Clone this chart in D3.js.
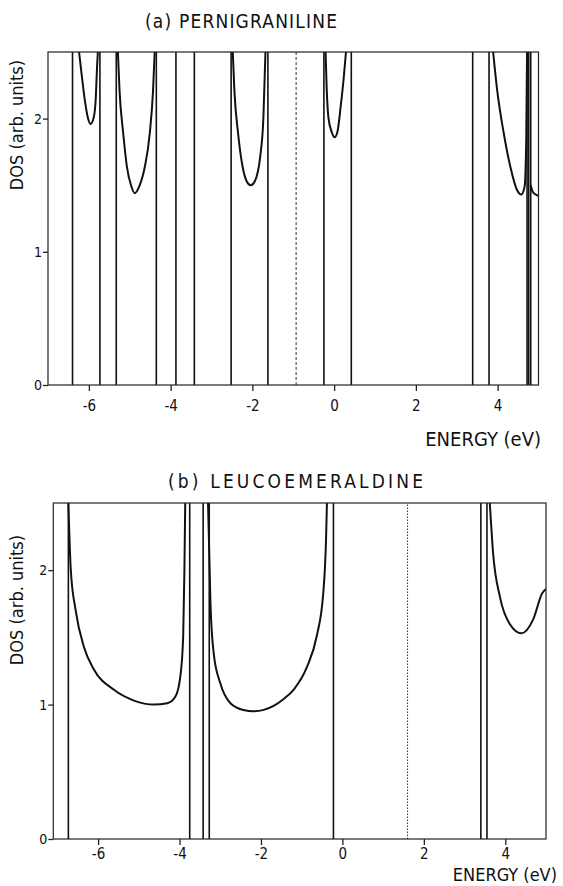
<!DOCTYPE html>
<html>
<head>
<meta charset="utf-8">
<script src="https://cdnjs.cloudflare.com/ajax/libs/d3/7.8.5/d3.min.js"></script>
<style>
  body { margin: 0; background: #fff; }
  svg text { font-family: "DejaVu Sans Condensed", "DejaVu Sans", sans-serif; fill: #111; }
</style>
</head>
<body>
<div id="container"></div>
<script>
// ---- data (energy in eV, DOS in arb. units) ----
const xTicks = [-6, -4, -2, 0, 2, 4];
const yTicks = [0, 1, 2];

// (a) pernigraniline: band edges (vertical lines), Fermi level, DOS curves
const pEdges = [-6.40, -5.73, -5.33, -4.35, -3.87, -3.42, -2.52, -1.62, -0.25, 0.42, 3.39, 3.79, 4.72, 4.76, 4.81];
const pFermi = -0.93;
const pBand1 = [[-6.24, 2.5], [-6.18, 2.34], [-6.10, 2.14], [-6.02, 2.00], [-5.96, 1.96], [-5.88, 2.01], [-5.83, 2.16], [-5.80, 2.39], [-5.78, 2.5]];
const pBand2 = [[-5.29, 2.5], [-5.25, 2.21], [-5.16, 1.89], [-5.07, 1.64], [-4.96, 1.49], [-4.88, 1.44], [-4.77, 1.49], [-4.63, 1.64], [-4.51, 1.89], [-4.43, 2.21], [-4.39, 2.5]];
const pBand3 = [[-2.48, 2.5], [-2.44, 2.21], [-2.35, 1.89], [-2.24, 1.64], [-2.14, 1.53], [-2.04, 1.50], [-1.94, 1.53], [-1.81, 1.71], [-1.73, 2.01], [-1.68, 2.5]];
const pBand4 = [[-0.21, 2.5], [-0.18, 2.21], [-0.14, 2.01], [-0.06, 1.90], [0.01, 1.86], [0.08, 1.90], [0.16, 2.09], [0.23, 2.29], [0.29, 2.5]];
const pBand5 = [[3.89, 2.5], [3.99, 2.21], [4.15, 1.89], [4.31, 1.64], [4.48, 1.46], [4.58, 1.43], [4.66, 1.49], [4.70, 1.84], [4.72, 2.5]];
const pBand6 = [[4.81, 1.50], [4.86, 1.45], [4.93, 1.43], [5.0, 1.42]];

// (b) leucoemeraldine
const lEdges = [-6.73, -3.75, -3.42, -3.27, -0.22, 3.40, 3.55];
const lFermi = 1.60;
const lBand1 = [[-6.73, 2.5], [-6.67, 2.00], [-6.55, 1.70], [-6.35, 1.43], [-6.10, 1.26], [-5.61, 1.11], [-5.12, 1.03], [-4.63, 1.00], [-4.30, 1.01], [-4.10, 1.06], [-3.98, 1.21], [-3.91, 1.51], [-3.88, 2.00], [-3.86, 2.5]];
const lBand2 = [[-3.30, 2.5], [-3.24, 1.75], [-3.16, 1.38], [-3.00, 1.16], [-2.75, 1.01], [-2.43, 0.96], [-2.18, 0.95], [-1.69, 0.99], [-1.45, 1.04], [-1.20, 1.11], [-0.87, 1.28], [-0.63, 1.51], [-0.47, 1.83], [-0.40, 2.25], [-0.38, 2.5]];
const lBand3 = [[3.62, 2.5], [3.70, 2.13], [3.87, 1.80], [4.11, 1.60], [4.40, 1.53], [4.68, 1.63], [4.91, 1.83], [5.0, 1.86]];

const width = 563;
const height = 886;

const svg = d3.select("#container").append("svg")
  .attr("width", width)
  .attr("height", height);

function drawPanel(opt) {
  const x = d3.scaleLinear().domain(opt.xDomain).range([opt.left, opt.right]);
  const y = d3.scaleLinear().domain([0, 2.5]).range([opt.bottom, opt.top]);
  const g = svg.append("g");

  g.append("clipPath").attr("id", opt.id)
    .append("rect")
    .attr("x", opt.left).attr("y", opt.top)
    .attr("width", opt.right - opt.left).attr("height", opt.bottom - opt.top);

  const plot = g.append("g").attr("clip-path", `url(#${opt.id})`);

  // band edges
  plot.selectAll(".edge")
    .data(opt.edges)
    .enter().append("line")
    .attr("x1", d => x(d)).attr("x2", d => x(d))
    .attr("y1", y(0)).attr("y2", y(2.5))
    .attr("stroke", "#111")
    .attr("stroke-width", 1.6);

  // Fermi level
  plot.append("line")
    .attr("x1", x(opt.fermi)).attr("x2", x(opt.fermi))
    .attr("y1", y(0)).attr("y2", y(2.5))
    .attr("stroke", "#333")
    .attr("stroke-width", 1)
    .attr("stroke-dasharray", opt.dash);

  const line = d3.line()
    .x(d => x(d[0]))
    .y(d => y(d[1]))
    .curve(d3.curveMonotoneX);

  plot.selectAll(".band")
    .data(opt.bands)
    .enter().append("path")
    .attr("fill", "none")
    .attr("stroke", "#111")
    .attr("stroke-width", 2)
    .attr("d", line);

  // frame
  g.append("rect")
    .attr("x", opt.left).attr("y", opt.top)
    .attr("width", opt.right - opt.left).attr("height", opt.bottom - opt.top)
    .attr("fill", "none")
    .attr("stroke", "#222")
    .attr("stroke-width", 1.2);

  const xAxis = g.append("g")
    .attr("transform", `translate(0,${opt.bottom})`)
    .call(d3.axisBottom(x).tickValues(xTicks).tickSize(6).tickSizeOuter(0)
      .tickFormat(d => String(d).replace("−", "-")));
  xAxis.select(".domain").remove();
  xAxis.selectAll("line").attr("stroke", "#222").attr("stroke-width", 1.3);
  xAxis.selectAll("text").attr("font-size", 15).attr("dy", opt.tickDy);

  const yAxis = g.append("g")
    .attr("transform", `translate(${opt.left},0)`)
    .call(d3.axisLeft(y).tickValues(yTicks).tickSize(5).tickSizeOuter(0).tickFormat(d3.format("d")));
  yAxis.select(".domain").remove();
  yAxis.selectAll("line").attr("stroke", "#222").attr("stroke-width", 1.3);
  yAxis.selectAll("text").attr("font-size", 14).attr("x", -6);

  // titles and labels
  svg.append("text")
    .attr("x", opt.titleX).attr("y", opt.titleY)
    .attr("font-size", 19)
    .attr("textLength", opt.titleLen)
    .attr("lengthAdjust", "spacing")
    .text(opt.title);

  svg.append("text")
    .attr("x", opt.xLabelRight).attr("y", opt.xLabelY)
    .attr("text-anchor", "end")
    .attr("font-size", opt.xLabelSize)
    .text("ENERGY (eV)");

  svg.append("text")
    .attr("transform", `translate(${opt.yLabelX},${opt.yLabelY}) rotate(-90)`)
    .attr("text-anchor", "middle")
    .attr("font-size", 18)
    .text("DOS (arb. units)");
}

drawPanel({
  id: "clipA", xDomain: [-7, 5], left: 48, right: 538.5, top: 52, bottom: 385,
  edges: pEdges, fermi: pFermi, dash: "3,2", tickDy: "1.1em",
  bands: [pBand1, pBand2, pBand3, pBand4, pBand5, pBand6],
  title: "(a)  PERNIGRANILINE", titleX: 145, titleY: 28, titleLen: 192,
  xLabelRight: 541, xLabelY: 446, xLabelSize: 20, yLabelX: 23, yLabelY: 125
});

drawPanel({
  id: "clipB", xDomain: [-7.1, 5], left: 53.3, right: 546, top: 503, bottom: 839,
  edges: lEdges, fermi: lFermi, dash: "1.5,1.5", tickDy: "0.7em",
  bands: [lBand1, lBand2, lBand3],
  title: "(b)  LEUCOEMERALDINE", titleX: 168, titleY: 488, titleLen: 255,
  xLabelRight: 557, xLabelY: 881, xLabelSize: 18, yLabelX: 23, yLabelY: 600
});
</script>
</body>
</html>
